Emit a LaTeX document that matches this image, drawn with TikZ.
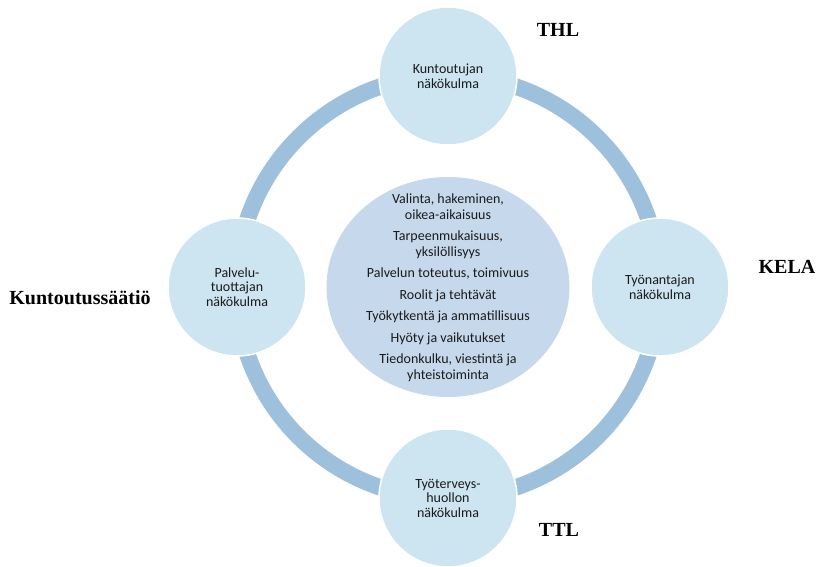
\documentclass[tikz,border=0pt]{standalone}
\usepackage{fontspec}
\usetikzlibrary{shapes.geometric}
\setmainfont{Carlito}
\newfontfamily\tnr{Liberation Serif}
\definecolor{ringblue}{HTML}{9DC0DD}
\definecolor{circfill}{HTML}{CDE4F1}
\definecolor{ellfill}{HTML}{C6D9EC}
\definecolor{txt}{HTML}{1A1A1A}
\tikzset{
  view/.style={circle, fill=circfill, draw=white, line width=1.5pt, minimum size=138pt, inner sep=0pt, align=center, text=txt, font=\fontsize{14}{14.5}\selectfont},
  org/.style={font=\tnr\bfseries\fontsize{20}{22}\selectfont, text=black, inner sep=0pt},
}
\begin{document}
\begin{tikzpicture}[x=1pt,y=-1pt]
\useasboundingbox (0,0) rectangle (818,566);
\coordinate (c) at (448,287);
\draw[ringblue, line width=16.5pt] (c) circle[radius=211.5];
\node[ellipse, fill=ellfill, minimum width=243pt, minimum height=220pt, inner sep=0pt] (mid) at (c) {};
\node[align=center, text=txt, font=\fontsize{14}{15.5}\selectfont] (midtext) at (448,288) {Valinta, hakeminen,\\oikea-aikaisuus\\[6pt]
Tarpeenmukaisuus,\\yksilöllisyys\\[6pt]
Palvelun toteutus, toimivuus\\[6pt]
Roolit ja tehtävät\\[6pt]
Työkytkentä ja ammatillisuus\\[6pt]
Hyöty ja vaikutukset\\[6pt]
Tiedonkulku, viestintä ja\\yhteistoiminta};
\node[view] (top) at (448,76) {Kuntoutujan\\näkökulma};
\node[view] (right) at (660,287) {Työnantajan\\näkökulma};
\node[view] (bottom) at (448,498) {Työterveys-\\huollon\\näkökulma};
\node[view] (left) at (237,287) {Palvelu-\\tuottajan\\näkökulma};
\node[org] (thl) at (558,30) {THL};
\node[org] (kela) at (787,267) {KELA};
\node[org] (ks) at (80,298) {Kuntoutussäätiö};
\node[org] (ttl) at (559,530) {TTL};
\end{tikzpicture}
\end{document}
